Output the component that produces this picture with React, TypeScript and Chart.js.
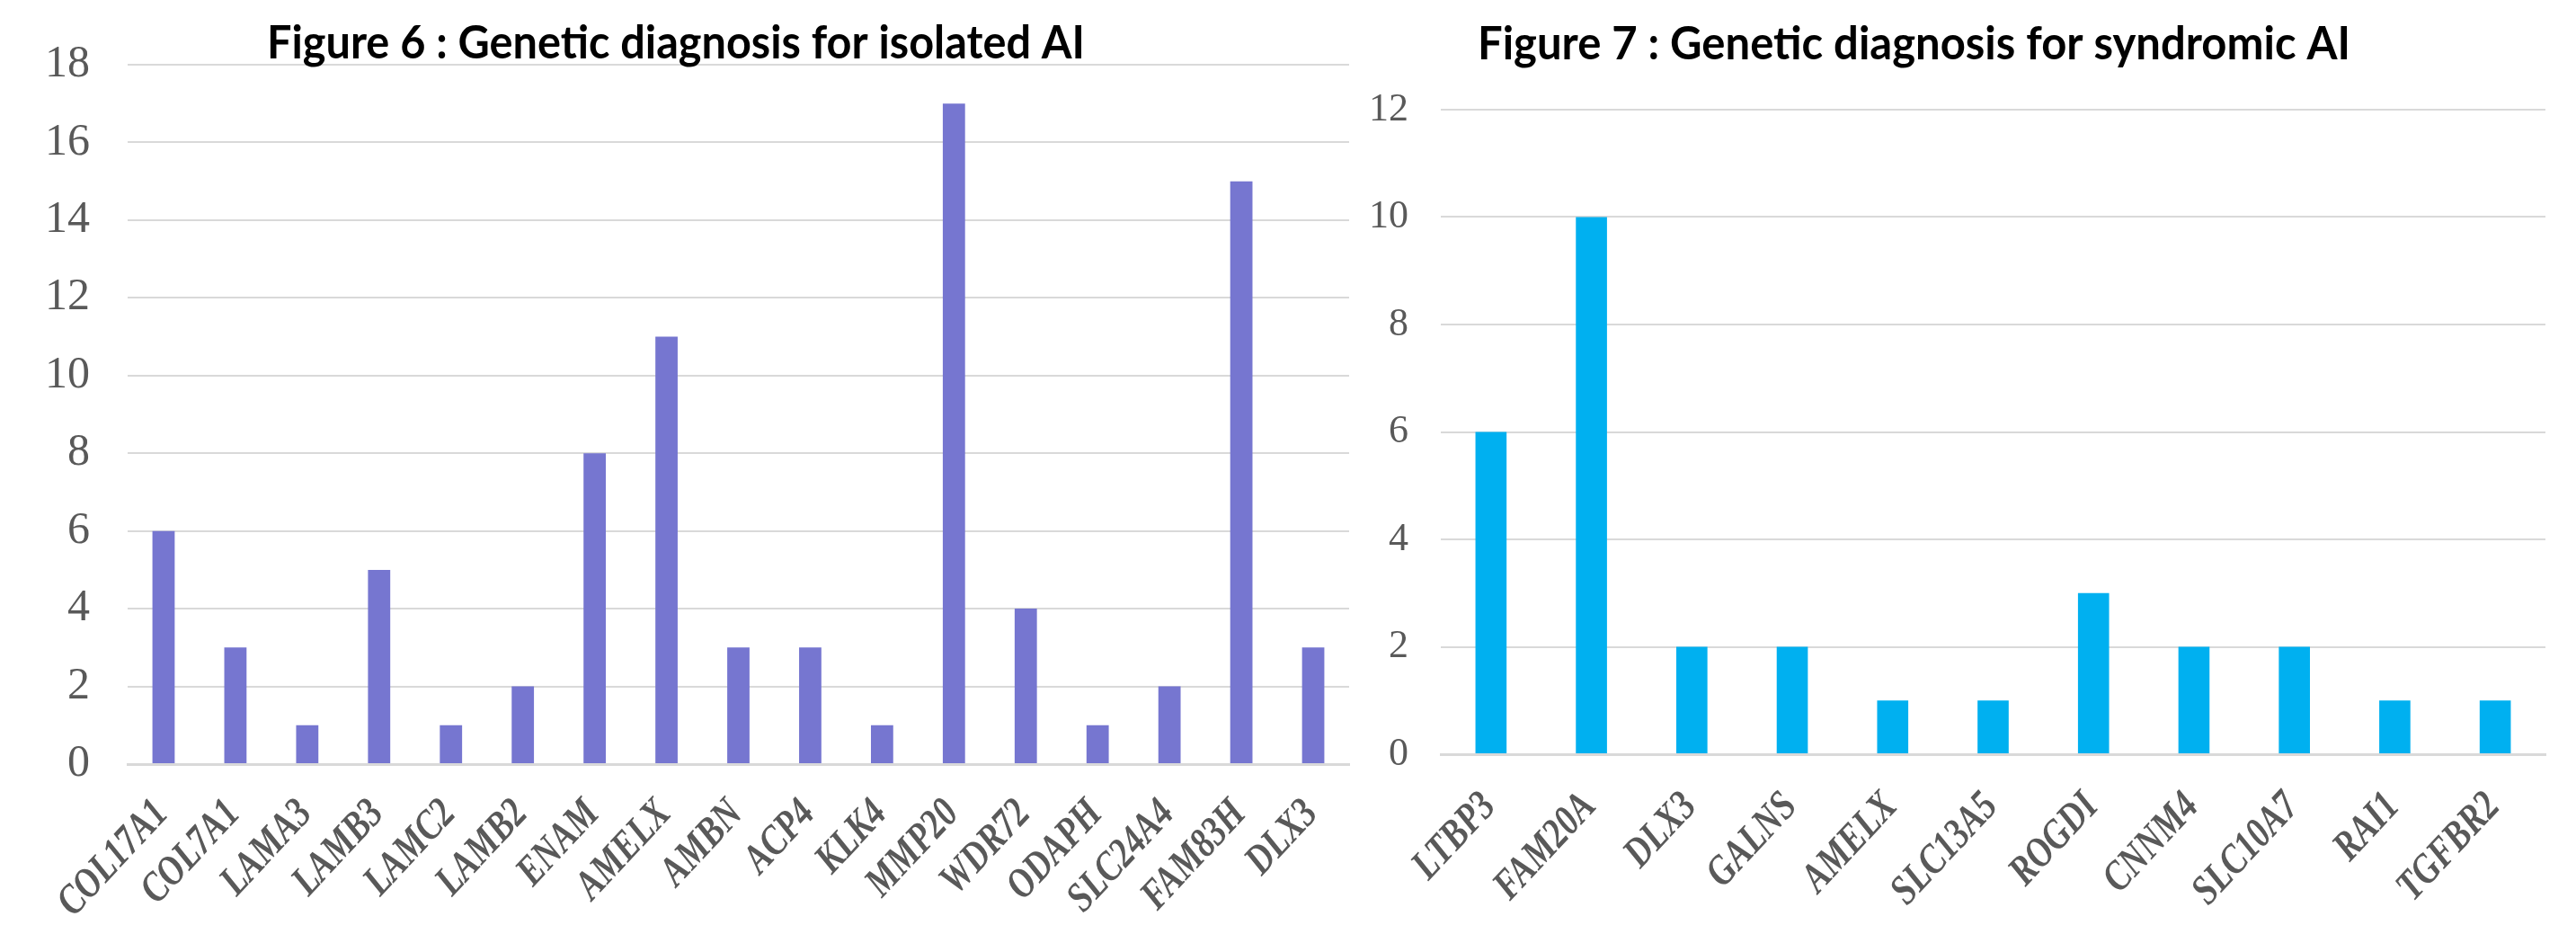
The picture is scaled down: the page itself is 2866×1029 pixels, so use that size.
import React, { useEffect, useRef } from "react";
import { Chart, registerables } from "chart.js";

Chart.register(...registerables);

// ---- Data ----
const isolatedGenes = [
  "COL17A1", "COL7A1", "LAMA3", "LAMB3", "LAMC2", "LAMB2", "ENAM", "AMELX", "AMBN",
  "ACP4", "KLK4", "MMP20", "WDR72", "ODAPH", "SLC24A4", "FAM83H", "DLX3",
];
const isolatedCounts = [6, 3, 1, 5, 1, 2, 8, 11, 3, 3, 1, 17, 4, 1, 2, 15, 3];
const isolatedTitle = "Figure 6 : Genetic diagnosis for isolated AI";
const isolatedYMax = 18;

const syndromicGenes = [
  "LTBP3", "FAM20A", "DLX3", "GALNS", "AMELX", "SLC13A5", "ROGDI", "CNNM4", "SLC10A7", "RAI1", "TGFBR2",
];
const syndromicCounts = [6, 10, 2, 2, 1, 1, 3, 2, 2, 1, 1];
const syndromicTitle = "Figure 7 : Genetic diagnosis for syndromic AI";
const syndromicYMax = 12;

const yStep = 2;

// ---- Title plugin (figure caption in a Calibri-like bold face) ----
const titlePlugin = {
  id: "figTitle",
  afterDraw(chart: any, _args: any, opts: any) {
    if (!opts || !opts.text) return;
    const ctx = chart.ctx as CanvasRenderingContext2D;
    ctx.save();
    ctx.font = `bold ${opts.size}px Lato, "Open Sans", sans-serif`;
    ctx.fillStyle = opts.color || "#000";
    ctx.textBaseline = "alphabetic";
    ctx.textAlign = "left";
    const w = ctx.measureText(opts.text).width;
    const sx = opts.width / w;
    ctx.translate(opts.x, opts.y);
    ctx.scale(sx, 1);
    ctx.fillText(opts.text, 0, 0);
    ctx.restore();
  },
};

// ---- Slanted, condensed category labels placed at the x scale's tick pixels ----
const slantLabelPlugin = {
  id: "slantLabels",
  afterDraw(chart: any, _args: any, opts: any) {
    const xs = chart.scales.x;
    const ctx = chart.ctx as CanvasRenderingContext2D;
    const labels = (chart.data.labels || []) as string[];
    ctx.save();
    ctx.font = `italic bold ${opts.size}px 'Liberation Serif', 'Times New Roman', serif`;
    ctx.fillStyle = opts.color;
    ctx.textAlign = "right";
    ctx.textBaseline = "middle";
    labels.forEach((lab, i) => {
      const px = xs.getPixelForValue(i) + opts.dx;
      const py = xs.top + opts.dy;
      ctx.save();
      ctx.translate(px, py);
      ctx.rotate((-opts.angle * Math.PI) / 180);
      ctx.scale(opts.squeeze, 1);
      ctx.fillText(String(lab), 0, 0);
      ctx.restore();
    });
    ctx.restore();
  },
};

type Props = {
  left: number;
  width: number;
  height: number;
  labels: string[];
  values: number[];
  color: string;
  yMax: number;
  title: string;
  titleX: number;
  titleY: number;
  titleW: number;
  padTop: number;
  padRight: number;
  yWidth: number;
  yPad: number;
  yFont: number;
  xHeight: number;
  labelDy: number;
};

function BarPanel(p: Props) {
  const ref = useRef<HTMLCanvasElement | null>(null);
  useEffect(() => {
    if (!ref.current) return;
    const chart = new Chart(ref.current, {
      type: "bar",
      data: {
        labels: p.labels,
        datasets: [
          { data: p.values, backgroundColor: p.color, borderWidth: 0, barPercentage: 0.31, categoryPercentage: 1 },
        ],
      },
      plugins: [titlePlugin, slantLabelPlugin],
      options: {
        responsive: false,
        maintainAspectRatio: false,
        animation: false,
        devicePixelRatio: 1,
        layout: { padding: { top: p.padTop, right: p.padRight, left: 0, bottom: 0 } },
        plugins: {
          legend: { display: false },
          tooltip: { enabled: false },
          title: { display: false },
          figTitle: { text: p.title, x: p.titleX, y: p.titleY, width: p.titleW, size: 52, color: "#000" },
          slantLabels: { size: 47, squeeze: 0.8, angle: 47, dx: -2, dy: p.labelDy, color: "#595959" },
        } as any,
        scales: {
          x: {
            grid: { display: false },
            border: { display: true, color: "#d9d9d9", width: 3 },
            ticks: { display: false, autoSkip: false },
            afterFit: (s: any) => { s.height = p.xHeight; },
          },
          y: {
            min: 0,
            max: p.yMax,
            grid: { color: "#d9d9d9", lineWidth: 2, drawTicks: false },
            border: { display: false },
            ticks: {
              stepSize: yStep,
              padding: p.yPad,
              color: "#595959",
              font: { family: "'Liberation Serif', 'Times New Roman', serif", size: p.yFont },
            },
            afterFit: (s: any) => { s.width = p.yWidth; },
          },
        },
      },
    });
    return () => chart.destroy();
  }, []);
  return (
    <div style={{ position: "absolute", left: p.left, top: 0, width: p.width, height: p.height }}>
      <canvas ref={ref} width={p.width} height={p.height} style={{ display: "block" }} />
    </div>
  );
}

export default function App() {
  return (
    <div style={{ position: "absolute", left: 0, top: 0, width: 2866, height: 1029, background: "#fff", overflow: "hidden" }}>
      <BarPanel
        left={0} width={1510} height={1029} labels={isolatedGenes} values={isolatedCounts} color="#7676D0"
        yMax={isolatedYMax} title={isolatedTitle} titleX={297} titleY={65} titleW={910}
        padTop={72} padRight={9} yWidth={142} yPad={42} yFont={50} xHeight={179} labelDy={48}
      />
      <BarPanel
        left={1510} width={1356} height={1029} labels={syndromicGenes} values={syndromicCounts} color="#00B0F0"
        yMax={syndromicYMax} title={syndromicTitle} titleX={134} titleY={66} titleW={971}
        padTop={122} padRight={34} yWidth={93} yPad={36} yFont={44} xHeight={190} labelDy={51}
      />
    </div>
  );
}
